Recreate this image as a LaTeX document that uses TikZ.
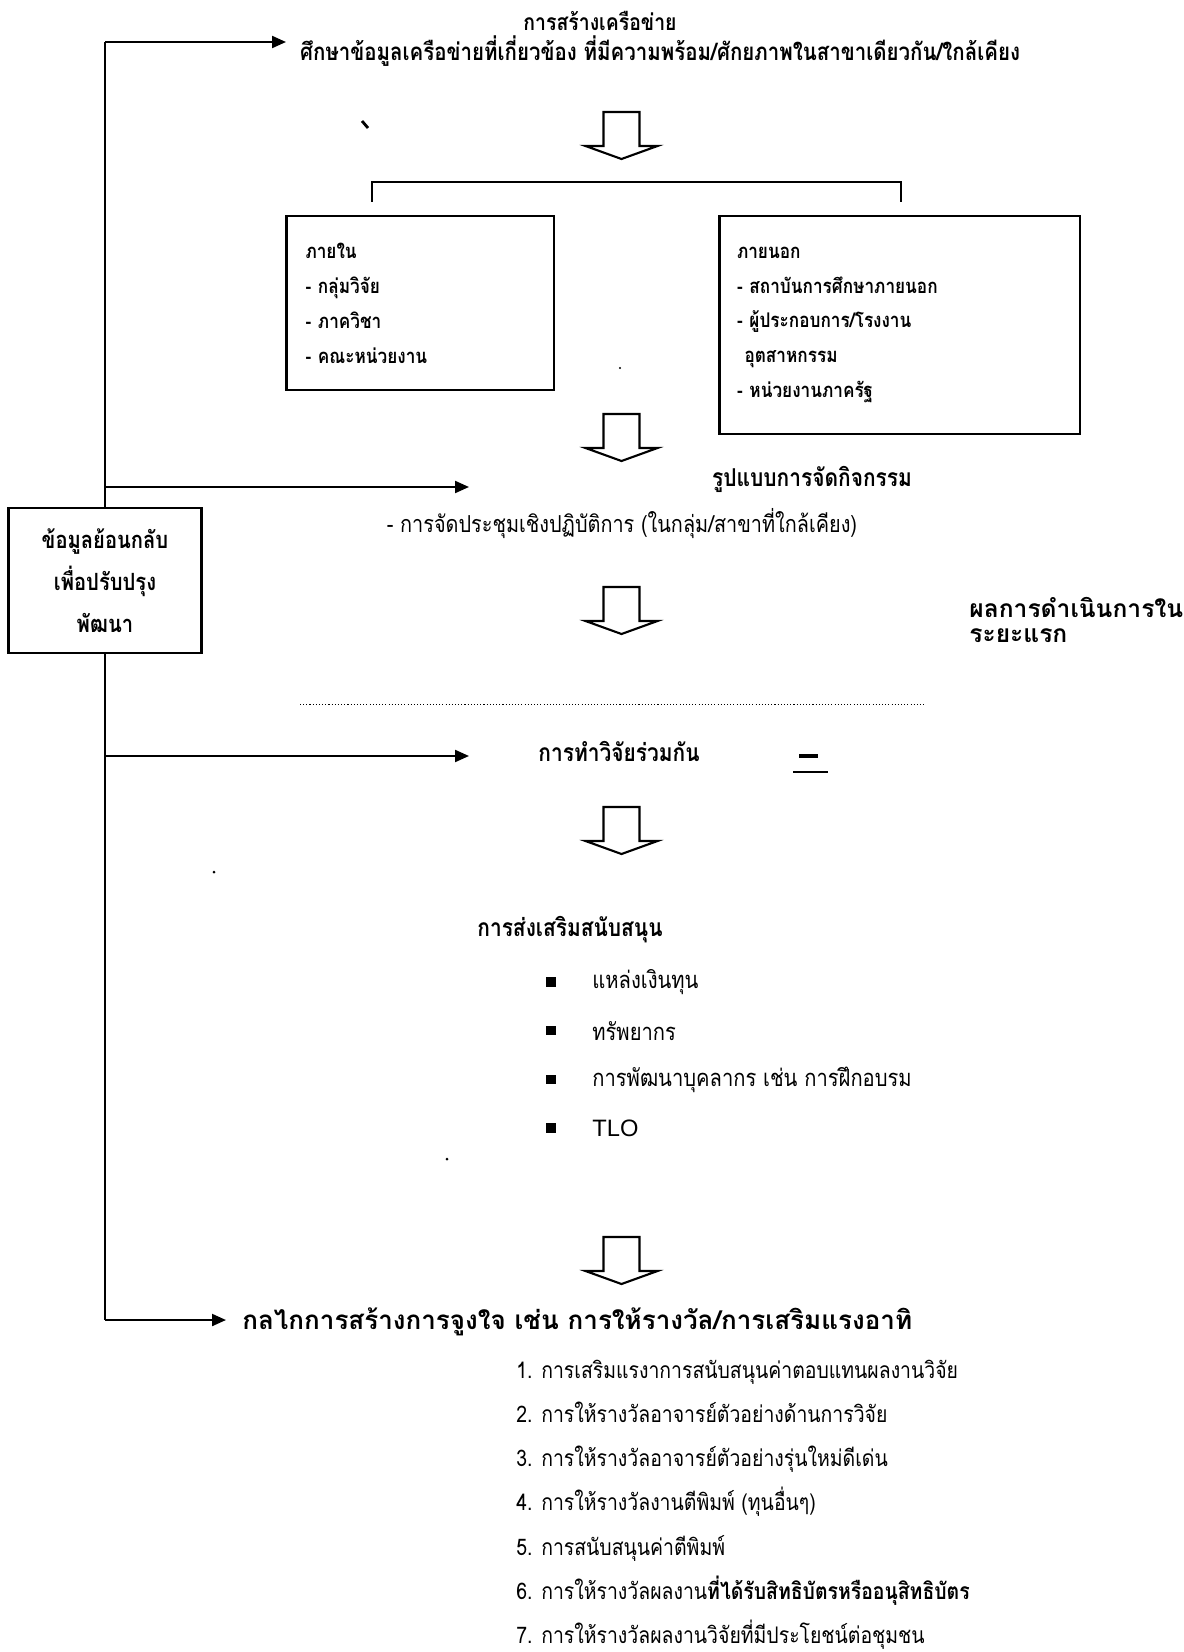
\documentclass[tikz,border=0pt]{standalone}
\usepackage{fontspec}
\setmainfont{Liberation Sans}
\newfontfamily\thai[Script=Thai,FakeStretch=0.85]{Loma}
\newfontfamily\thaiwide[Script=Thai]{Loma}
\usepackage{tikz}
\usetikzlibrary{arrows.meta,positioning,calc}
\tikzset{
  txt/.style={inner sep=0pt, font=\thai\fontsize{13}{16}\selectfont},
  head/.style={inner sep=0pt, font=\thai\bfseries\fontsize{13}{16}\selectfont},
  bighead/.style={inner sep=0pt, font=\thai\bfseries\fontsize{14}{16}\selectfont},
  boxed/.style={draw, line width=1.6pt, align=left, font=\thai\bfseries\fontsize{11.5}{19.9}\selectfont},
  feedbox/.style={draw, line width=1.4pt, align=center, minimum width=38.6mm, minimum height=29mm, inner sep=0pt, font=\thai\bfseries\fontsize{13.5}{23.9}\selectfont},
  link/.style={line width=1.2pt},
  feed/.style={link, -{Triangle[length=2.8mm, width=2.4mm]}},
  bullet/.style={fill=black, minimum size=1.9mm, inner sep=0pt},
  hollow/.pic={\draw[line width=1.2pt, fill=white] (-18,0) -- (-18,34) -- (-36,34) -- (0,47) -- (36,34) -- (18,34) -- (18,0) -- cycle;}
}
\begin{document}
\begin{tikzpicture}[x=0.2mm, y=-0.2mm]
\useasboundingbox (0,0) rectangle (1183,1652);

\coordinate (top) at (105,42);
\coordinate (bottom) at (105,1320);
\coordinate (j2) at (105,487);
\coordinate (j3) at (105,756);
\coordinate (t1) at (286,42);
\coordinate (t2) at (469,487);
\coordinate (t3) at (469,756);
\coordinate (t4) at (226,1320);

\node[feedbox] (fb) at (105,580.5) {ข้อมูลย้อนกลับ\\เพื่อปรับปรุง\\พัฒนา};
\draw[link] (top) -- (fb.north);
\draw[link] (fb.south) -- (bottom);
\draw[feed] (top) -- (t1);
\draw[feed] (j2) -- (t2);
\draw[feed] (j3) -- (t3);
\draw[feed] (bottom) -- (t4);

\node[head] (net) at (600,21) {การสร้างเครือข่าย};
\node[head, font=\thai\bfseries\fontsize{13.7}{16}\selectfont] (study) at (660,51) {ศึกษาข้อมูลเครือข่ายที่เกี่ยวข้อง ที่มีความพร้อม/ศักยภาพในสาขาเดียวกัน/ใกล้เคียง};

\foreach \y in {112,414,587,807,1237}
  \pic at (621.5,\y) {hollow};

\coordinate (bl) at (372,202);
\coordinate (br) at (901,202);
\draw[link] (bl) -- ++(0,-20) -| (br);

\node[boxed, text width=45.9mm, inner xsep=3.8mm, minimum height=34.8mm] (inside) at (420.25,303)
  {ภายใน\\- กลุ่มวิจัย\\- ภาควิชา\\- คณะหน่วยงาน};
\node[boxed, text width=65.1mm, inner xsep=3.5mm, minimum height=43.6mm] (outside) at (899.75,325)
  {ภายนอก\\- สถาบันการศึกษาภายนอก\\- ผู้ประกอบการ/โรงงาน\\\hspace*{1.5mm}อุตสาหกรรม\\- หน่วยงานภาครัฐ};

\node[bighead] (form) at (812,479) {รูปแบบการจัดกิจกรรม};
\node[txt, font=\thai\fontsize{13.3}{16}\selectfont] (meet) at (622,523.5) {- การจัดประชุมเชิงปฏิบัติการ (ในกลุ่ม/สาขาที่ใกล้เคียง)};
\node[inner sep=0pt, anchor=west, align=left, font=\thaiwide\bfseries\fontsize{14}{14.5}\selectfont] (result) at (969,620) {ผลการดำเนินการใน\\ระยะแรก};

\coordinate (dl) at (300,704);
\coordinate (dr) at (925,704);
\draw[line width=0.5pt, dash pattern=on 0.6pt off 1.2pt] (dl) -- (dr);

\node[bighead] (joint) at (619,751) {การทำวิจัยร่วมกัน};

\node[bighead, anchor=west] (support) at (477,930) {การส่งเสริมสนับสนุน};
\foreach \t [count=\i] in {แหล่งเงินทุน, ทรัพยากร, การพัฒนาบุคลากร เช่น การฝึกอบรม, {\rmfamily TLO}} {
  \node[bullet] (b\i) at (551,{982+48.7*(\i-1)}) {};
  \node[txt, anchor=west, font=\thai\fontsize{13.5}{16}\selectfont] (s\i) at (592,{982+48.7*(\i-1)}) {\t};
}

\node[inner sep=0pt, anchor=west, font=\thaiwide\bfseries\fontsize{14.8}{16}\selectfont] (motive) at (242,1322) {กลไกการสร้างการจูงใจ เช่น การให้รางวัล/การเสริมแรงอาทิ};
\foreach \t [count=\i] in {การเสริมแรงาการสนับสนุนค่าตอบแทนผลงานวิจัย, การให้รางวัลอาจารย์ตัวอย่างด้านการวิจัย, การให้รางวัลอาจารย์ตัวอย่างรุ่นใหม่ดีเด่น, การให้รางวัลงานตีพิมพ์ (ทุนอื่นๆ), การสนับสนุนค่าตีพิมพ์, การให้รางวัลผลงาน\textbf{ที่ได้รับสิทธิบัตรหรืออนุสิทธิบัตร}, การให้รางวัลผลงานวิจัยที่มีประโยชน์ต่อชุมชน}
  \node[txt, anchor=base west] (r\i) at (516,{1378+44.3*(\i-1)}) {\i. \t};

\draw[line width=1.6pt] (362,121) -- (368,128);
\draw[line width=2pt] (799,756) -- (818,756);
\draw[line width=1.4pt] (793,772) -- (828,772);
\fill (620,368) circle (1.2);
\fill (214,872) circle (1.5);
\fill (447,1159) circle (1.5);
\end{tikzpicture}
\end{document}
